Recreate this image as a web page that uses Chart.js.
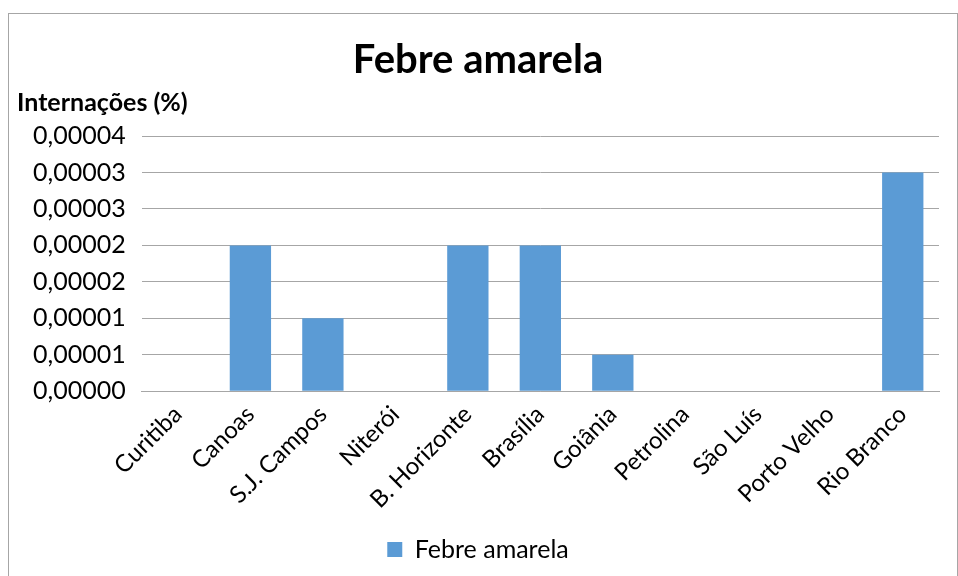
<!DOCTYPE html>
<html>
<head>
<meta charset="utf-8">
<script src="https://cdn.jsdelivr.net/npm/chart.js@4.4.1/dist/chart.umd.min.js"></script>
<style>
  html, body { margin: 0; padding: 0; background: #fff; }
  #box {
    position: absolute;
    left: 8px;
    top: 13px;
    width: 950px;
    height: 570px;
    border: 1px solid #a6a6a6;
    box-sizing: border-box;
  }
  #chart { display: block; }
</style>
</head>
<body>
<div id="box"><canvas id="chart" width="948" height="568"></canvas></div>
<script>
// Internações por febre amarela, por cidade
const cidades = ['Curitiba', 'Canoas', 'S.J. Campos', 'Niterói', 'B. Horizonte', 'Brasília',
  'Goiânia', 'Petrolina', 'São Luís', 'Porto Velho', 'Rio Branco'];
const internacoes = [0, 0.00002, 0.00001, 0, 0.00002, 0.00002, 0.000005, 0, 0, 0, 0.00003];
const yTickLabels = ['0,00000', '0,00001', '0,00001', '0,00002', '0,00002', '0,00003', '0,00003', '0,00004'];

const fonte = 'Lato, "Open Sans", sans-serif';
const cinza = '#a6a6a6';

const ctx = document.getElementById('chart').getContext('2d');
new Chart(ctx, {
  type: 'bar',
  data: {
    labels: cidades,
    datasets: [{
      label: 'Febre amarela',
      data: internacoes,
      backgroundColor: '#5b9bd5',
      borderWidth: 0,
      barPercentage: 0.57,
      categoryPercentage: 1
    }]
  },
  options: {
    responsive: false,
    animation: false,
    layout: { padding: { left: 8, right: 18, top: 14, bottom: 10 } },
    plugins: {
      title: {
        display: true,
        text: 'Febre amarela',
        color: '#000',
        font: { family: fonte, size: 40, weight: 'bold' },
        padding: { top: 8, bottom: 4 }
      },
      subtitle: {
        display: true,
        text: 'Internações (%)',
        align: 'start',
        color: '#000',
        font: { family: fonte, size: 25, weight: 'bold' },
        padding: { top: 0, bottom: 18 }
      },
      legend: {
        position: 'bottom',
        labels: {
          color: '#000',
          font: { family: fonte, size: 25 },
          boxWidth: 15,
          boxHeight: 15,
          padding: 14
        }
      },
      tooltip: { enabled: false }
    },
    scales: {
      x: {
        grid: { display: false, drawTicks: false },
        border: { display: true, color: cinza },
        ticks: {
          color: '#000',
          font: { family: fonte, size: 24 },
          maxRotation: 45,
          minRotation: 45,
          padding: 9
        }
      },
      y: {
        min: 0,
        max: 0.000035,
        grid: { color: cinza, drawTicks: false },
        border: { display: false },
        ticks: {
          stepSize: 0.000005,
          color: '#000',
          font: { family: fonte, size: 25 },
          padding: 16,
          callback: (value, index) => yTickLabels[index]
        }
      }
    }
  }
});
</script>
</body>
</html>
